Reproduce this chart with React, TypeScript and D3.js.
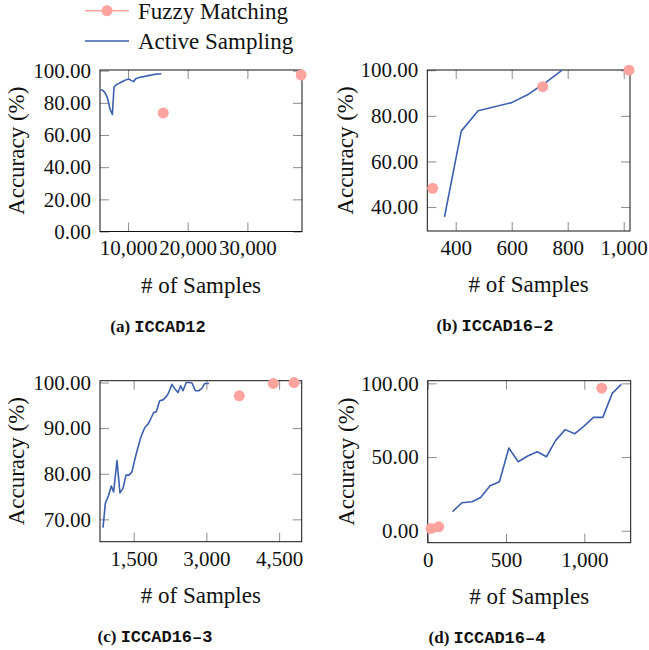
import { useEffect, useRef } from "react";
import * as d3 from "d3";

type Pt = [number, number];

// (a) ICCAD12
const iccad12Active: Pt[] = [
  [5350, 88], [5700, 88], [6150, 86.2], [6500, 83.5], [6750, 80], [6990, 76],
  [7370, 72.8], [7650, 89.7], [8040, 91.3], [8600, 92.3], [9160, 93.4],
  [9720, 94.4], [10110, 94.8], [10550, 93.8], [10950, 93.2], [11290, 95],
  [11960, 95.9], [12680, 96.3], [13350, 96.9], [14190, 97.5], [15030, 97.9],
  [15580, 98.1],
];
const iccad12Fuzzy: Pt[] = [[15900, 73.7], [39000, 97.3]];
const iccad12XTicks = [10000, 20000, 30000];
const iccad12YTicks = [0, 20, 40, 60, 80, 100];

// (b) ICCAD16-2
const iccad16_2Active: Pt[] = [
  [360, 35.7], [420, 73.3], [480, 82.2], [600, 85.8], [660, 89.5], [720, 94.5], [780, 100],
];
const iccad16_2Fuzzy: Pt[] = [[318, 48.2], [711, 92.8], [1019, 100]];
const iccad16_2XTicks = [400, 600, 800, 1000];
const iccad16_2YTicks = [40, 60, 80, 100];

// (c) ICCAD16-3
const iccad16_3Active: Pt[] = [
  [867, 68.2], [915, 73.5], [983, 75.3], [1038, 77.3], [1086, 76], [1155, 82.9],
  [1217, 75.8], [1279, 76.8], [1341, 79.7], [1403, 79.7], [1465, 80.4],
  [1520, 83], [1574, 85.2], [1644, 87.9], [1727, 90.1], [1795, 90.9],
  [1850, 92], [1912, 93.4], [1966, 93.6], [2036, 96], [2104, 96.2],
  [2173, 96.9], [2222, 97.8], [2290, 99.6], [2358, 98.5], [2414, 97.8],
  [2470, 99.3], [2517, 98.2], [2585, 100], [2655, 100], [2703, 99.9],
  [2771, 98.2], [2841, 98.2], [2909, 98.7], [2965, 99.8], [3053, 99.8],
];
const iccad16_3Fuzzy: Pt[] = [[3678, 97.1], [4380, 99.8], [4808, 100]];
const iccad16_3XTicks = [1500, 3000, 4500];
const iccad16_3YTicks = [70, 80, 90, 100];

// (d) ICCAD16-4
const iccad16_4Active: Pt[] = [
  [158, 12.9], [218, 19], [283, 19.7], [338, 22.6], [398, 30.5], [458, 33.3],
  [518, 56.1], [578, 46.8], [638, 50.7], [700, 53.6], [758, 50.2], [818, 61.5],
  [878, 68.6], [938, 65.8], [998, 71], [1058, 76.9], [1118, 76.9], [1178, 93.2],
  [1236, 99.3],
];
const iccad16_4Fuzzy: Pt[] = [[21, 1.6], [70, 2.7], [1111, 96.7]];
const iccad16_4XTicks = [0, 500, 1000];
const iccad16_4YTicks = [0, 50, 100];

const legendLabels = ["Fuzzy Matching", "Active Sampling"];

const BLUE = "#3d5fb0";
const PINK = "#ffa39e";
const SERIF = "Liberation Serif, Times New Roman, Times, DejaVu Serif, Noto Serif, serif";
const MONO = "Liberation Mono, DejaVu Sans Mono, monospace";

const panels = [
  {
    tag: "(a)", name: "ICCAD12", active: iccad12Active, fuzzy: iccad12Fuzzy,
    xTicks: iccad12XTicks, yTicks: iccad12YTicks,
    xDomain: [5300, 39150], yDomain: [0, 100.4],
    box: { left: 100, right: 302, top: 70, bottom: 231.5 },
    yLabelX: 24, captionX: 158,
  },
  {
    tag: "(b)", name: "ICCAD16\u20132", active: iccad16_2Active, fuzzy: iccad16_2Fuzzy,
    xTicks: iccad16_2XTicks, yTicks: iccad16_2YTicks,
    xDomain: [298.6, 1022.5], yDomain: [29.5, 100.1],
    box: { left: 427.3, right: 630, top: 70, bottom: 231 },
    yLabelX: 353, captionX: 495,
  },
  {
    tag: "(c)", name: "ICCAD16\u20133", active: iccad16_3Active, fuzzy: iccad16_3Fuzzy,
    xTicks: iccad16_3XTicks, yTicks: iccad16_3YTicks,
    xDomain: [805, 4966], yDomain: [65.1, 100.4],
    box: { left: 100, right: 301.7, top: 380.7, bottom: 541.7 },
    yLabelX: 24, captionX: 155,
  },
  {
    tag: "(d)", name: "ICCAD16\u20134", active: iccad16_4Active, fuzzy: iccad16_4Fuzzy,
    xTicks: iccad16_4XTicks, yTicks: iccad16_4YTicks,
    xDomain: [0, 1296], yDomain: [-8.1, 101.8],
    box: { left: 427.7, right: 630.7, top: 380.7, bottom: 542.7 },
    yLabelX: 354, captionX: 487,
  },
];

function drawPanel(svg, p) {
  const { left, right, top, bottom } = p.box;
  const x = d3.scaleLinear().domain(p.xDomain).range([left, right]);
  const y = d3.scaleLinear().domain(p.yDomain).range([bottom, top]);
  const tickLen = 9;

  const styleAxis = (g) => {
    g.attr("font-family", null).attr("font-size", null);
    g.select(".domain").remove();
    g.selectAll(".tick line").attr("stroke", "#8c8c8c").attr("stroke-width", 1);
    g.selectAll(".tick text")
      .attr("fill", "#111")
      .style("font-family", SERIF)
      .style("font-size", "21px");
  };

  svg.append("g")
    .attr("transform", `translate(0,${bottom})`)
    .call(d3.axisBottom(x).tickValues(p.xTicks).tickSize(-tickLen).tickPadding(9).tickFormat(d3.format(",")))
    .call(styleAxis);
  svg.append("g")
    .attr("transform", `translate(0,${top})`)
    .call(d3.axisTop(x).tickValues(p.xTicks).tickSize(-tickLen).tickFormat(() => ""))
    .call(styleAxis);
  svg.append("g")
    .attr("transform", `translate(${left},0)`)
    .call(d3.axisLeft(y).tickValues(p.yTicks).tickSize(-tickLen).tickPadding(9).tickFormat(d3.format(".2f")))
    .call(styleAxis);
  svg.append("g")
    .attr("transform", `translate(${right},0)`)
    .call(d3.axisRight(y).tickValues(p.yTicks).tickSize(-tickLen).tickFormat(() => ""))
    .call(styleAxis);

  svg.append("rect")
    .attr("x", left).attr("y", top)
    .attr("width", right - left).attr("height", bottom - top)
    .attr("fill", "none").attr("stroke", "#111").attr("stroke-width", 1);

  const line = d3.line<Pt>().x(d => x(d[0])).y(d => y(d[1]));
  svg.append("path")
    .datum(p.active)
    .attr("d", line)
    .attr("fill", "none")
    .attr("stroke", BLUE)
    .attr("stroke-width", 1.6)
    .attr("stroke-linejoin", "round");

  svg.append("g")
    .selectAll("circle")
    .data(p.fuzzy)
    .join("circle")
      .attr("cx", d => x(d[0]))
      .attr("cy", d => y(d[1]))
      .attr("r", 5.5)
      .attr("fill", PINK);

  svg.append("text")
    .attr("transform", `translate(${p.yLabelX},${(top + bottom) / 2}) rotate(-90)`)
    .attr("text-anchor", "middle")
    .style("font-family", SERIF)
    .style("font-size", "23px")
    .attr("fill", "#111")
    .text("Accuracy (%)");

  svg.append("text")
    .attr("x", (left + right) / 2)
    .attr("y", bottom + 61)
    .attr("text-anchor", "middle")
    .style("font-family", SERIF)
    .style("font-size", "23px")
    .attr("fill", "#111")
    .text("# of Samples");

  const cap = svg.append("text")
    .attr("x", p.captionX)
    .attr("y", bottom + 100)
    .attr("text-anchor", "middle")
    .style("font-size", "17px")
    .attr("font-weight", "bold")
    .attr("fill", "#111");
  cap.append("tspan").style("font-family", SERIF).text(p.tag + " ");
  cap.append("tspan").style("font-family", MONO).text(p.name);
}

export default function App() {
  const ref = useRef(null);

  useEffect(() => {
    const svg = d3.select(ref.current);
    svg.selectAll("*").remove();

    // legend
    const lg = svg.append("g");
    lg.append("line")
      .attr("x1", 85).attr("x2", 129).attr("y1", 10.7).attr("y2", 10.7)
      .attr("stroke", PINK).attr("stroke-width", 1.4);
    lg.append("circle").attr("cx", 107).attr("cy", 10.7).attr("r", 5.5).attr("fill", PINK);
    lg.append("line")
      .attr("x1", 85).attr("x2", 129).attr("y1", 41).attr("y2", 41)
      .attr("stroke", BLUE).attr("stroke-width", 1.6);
    lg.selectAll("text")
      .data(legendLabels)
      .join("text")
        .attr("x", 138)
        .attr("y", (d, i) => 18.5 + i * 30)
        .style("font-family", SERIF)
        .style("font-size", "23px")
        .attr("fill", "#111")
        .text(d => d);

    panels.forEach(p => drawPanel(svg, p));
  }, []);

  return (
    <svg
      ref={ref}
      width={649}
      height={650}
      style={{ position: "absolute", left: 0, top: 0, background: "#fff" }}
    />
  );
}
